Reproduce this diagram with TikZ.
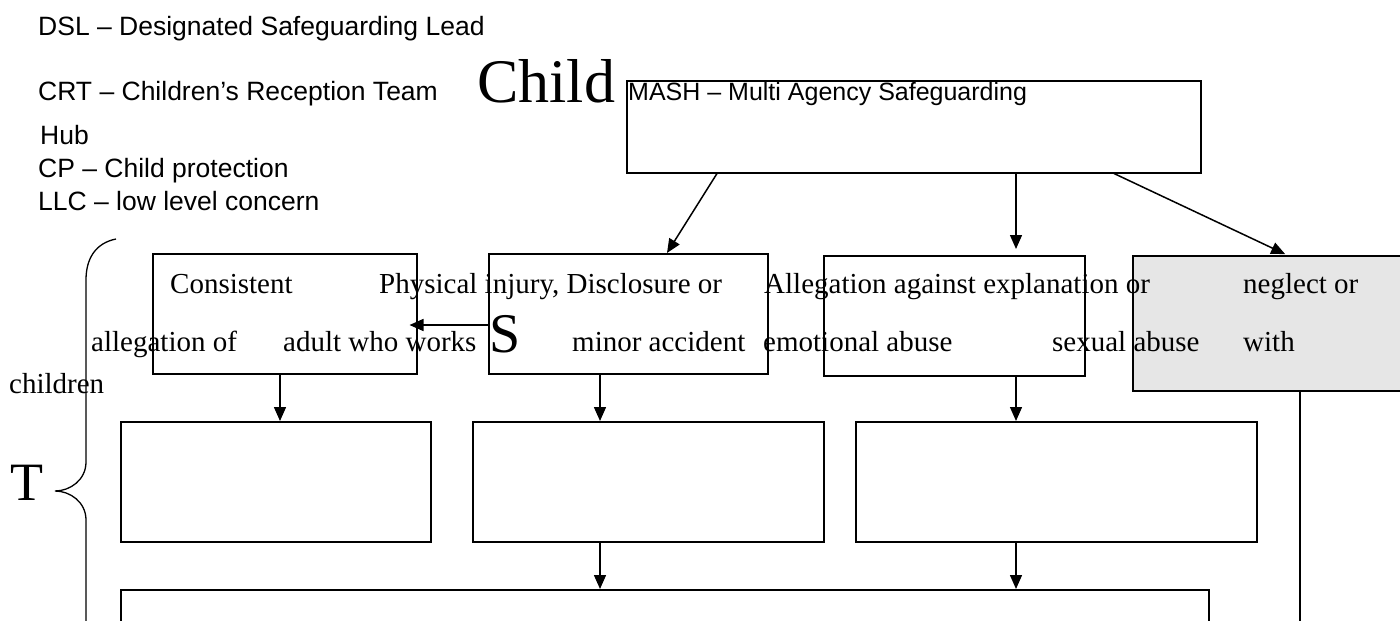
\documentclass[tikz,border=0pt]{standalone}
\usepackage{fontspec}
\setmainfont{Liberation Serif}
\newfontfamily\arialfont{Liberation Sans}
\usetikzlibrary{arrows.meta,positioning}

\tikzset{
	box/.style={draw, line width=1.5pt, inner sep=0pt, anchor=north west},
	key/.style={font=\arialfont\fontsize{26.5}{30}\selectfont, anchor=base west, inner sep=0pt},
	txt/.style={font=\fontsize{29}{33}\selectfont, anchor=base west, inner sep=0pt},
	arr/.style={-{Triangle[length=14pt,width=12pt]}, line width=1.5pt},
}

\begin{document}
\begin{tikzpicture}[x=1pt,y=-1pt]
			\useasboundingbox (0,0) rectangle (1400,621);

			% Boxes
			\node[box, minimum width=574pt, minimum height=92pt] (mash) at (626,80) {};
			\node[box, minimum width=264pt, minimum height=120pt] (consistbox) at (152,253) {};
			\node[box, minimum width=279pt, minimum height=120pt] (physbox) at (488,253) {};
			\node[box, minimum width=261pt, minimum height=120pt] (allegbox) at (823,255) {};
			\node[box, fill={rgb,255:red,230;green,230;blue,230}, minimum width=290pt, minimum height=135pt] (neglectbox) at (1132,255) {};
			\node[box, minimum width=310pt, minimum height=120pt] (outA) at (120,421) {};
			\node[box, minimum width=351pt, minimum height=120pt] (outB) at (472,421) {};
			\node[box, minimum width=401pt, minimum height=120pt] (outC) at (855,421) {};
			\node[box, minimum width=1088pt, minimum height=60pt] (finalbox) at (120,589) {};

			% Brace
			\draw[line width=1.3pt] (116,239) .. controls (96,243) and (86,258) .. (86,280) -- (86,462)
				.. controls (86,480) and (70,491) .. (55,491) .. controls (70,491) and (86,502) .. (86,520) -- (86,630);

			% Arrows
			\draw[arr] ([xshift=91pt]mash.south west) -- ([xshift=179pt]physbox.north west);
			\draw[arr, shorten >=6pt] ([xshift=390pt]mash.south west) -- ([xshift=193pt]allegbox.north west);
			\draw[arr, shorten >=2pt] ([xshift=488pt]mash.south west) -- ([xshift=155pt]neglectbox.north west);
			\draw[arr, shorten >=-8pt] ([yshift=-72pt]physbox.north west) -- ([yshift=-72pt]consistbox.north east);
			\draw[arr] ([xshift=128pt]consistbox.south west) -- ([xshift=160pt]outA.north west);
			\draw[arr] ([xshift=112pt]physbox.south west) -- ([xshift=128pt]outB.north west);
			\draw[arr] ([xshift=193pt]allegbox.south west) -- ([xshift=161pt]outC.north west);
			\draw[arr] ([xshift=128pt]outB.south west) -- ([xshift=480pt]finalbox.north west);
			\draw[arr] ([xshift=161pt]outC.south west) -- ([xshift=896pt]finalbox.north west);
			\coordinate (neglectend) at (1300,630);
			\draw[line width=1.5pt] ([xshift=168pt]neglectbox.south west) -- (neglectend);

			% Key
			\node[key] (dsl) at (38,35) {DSL – Designated Safeguarding Lead};
			\node[key] (crt) at (38,100) {CRT – Children’s Reception Team};
			\node[key] (hub) at (40,144) {Hub};
			\node[key] (cp) at (38,177) {CP – Child protection};
			\node[key] (llc) at (38,210) {LLC – low level concern};
			\node[key, font=\arialfont\fontsize{25}{28}\selectfont] (mashtxt) at (628,100) {MASH – Multi Agency Safeguarding};
			\node[txt, font=\fontsize{62}{66}\selectfont] (child) at (477,102) {Child};

			% Box texts, first line
			\node[txt] (consist) at (170,293) {Consistent};
			\node[txt] (phys) at (379,293) {Physical injury, Disclosure or};
			\node[txt] (alleg) at (764,293) {Allegation against explanation or};
			\node[txt] (neglect) at (1243,293) {neglect or};

			% Box texts, second line
			\node[txt] (allegof) at (91,351) {allegation of};
			\node[txt] (adult) at (283,351) {adult who works};
			\node[txt, font=\fontsize{56}{60}\selectfont] (bigS) at (489,352) {S};
			\node[txt] (minor) at (572,351) {minor accident};
			\node[txt] (emot) at (763,351) {emotional abuse};
			\node[txt] (sexual) at (1052,351) {sexual abuse};
			\node[txt] (with) at (1243,351) {with};
			\node[txt] (children) at (9,393) {children};
			\node[txt, font=\fontsize{54}{58}\selectfont] (bigT) at (10,500) {T};

		\end{tikzpicture}
\end{document}
